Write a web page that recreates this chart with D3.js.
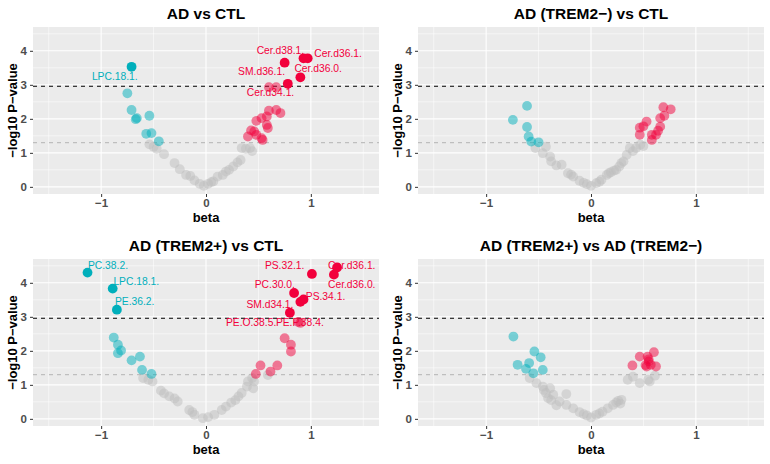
<html>
<head>
  <script src="https://d3js.org/d3.v7.min.js" charset="utf-8"></script>
  <style>
    body { margin: 0; background: #fff; }
    text { font-family: "Liberation Sans", Arial, sans-serif; }
  </style>
</head>
<body>
<script>
  var width = 770, height = 464;

  // thresholds: p = 0.05 and bonferroni
  var pLine = 1.301, bonfLine = 2.96;

  var titles = ["AD vs CTL", "AD (TREM2\u2212) vs CTL", "AD (TREM2+) vs CTL", "AD (TREM2+) vs AD (TREM2\u2212)"];
  var xTicks = [-1, 0, 1];
  var yTicks = [0, 1, 2, 3, 4];

  // [beta, -log10 p]
  var adCtl = [
    [-0.71,3.53],
    [-0.75,2.75],[-0.71,2.26],[-0.67,1.99],[-0.66,2.02],[-0.54,2.09],[-0.57,1.56],[-0.52,1.58],[-0.45,1.34],
    [-0.54,1.25],[-0.50,1.18],[-0.47,1.12],[-0.40,0.96],[-0.30,0.70],[-0.25,0.52],[-0.19,0.35],[-0.15,0.32],
    [-0.11,0.19],[-0.06,0.09],[-0.02,0.03],[0.02,0.09],[0.05,0.14],[0.07,0.16],[0.11,0.30],[0.16,0.35],
    [0.19,0.45],[0.22,0.50],[0.26,0.60],[0.30,0.72],[0.33,0.79],[0.34,1.14],[0.38,1.12],[0.42,1.14],[0.44,1.05],
    [0.40,1.48],[0.43,1.66],[0.46,1.63],[0.48,1.53],[0.48,1.94],[0.53,1.43],[0.54,1.38],[0.53,2.02],
    [0.58,2.07],[0.58,1.82],[0.59,1.73],[0.60,2.24],[0.67,2.26],[0.71,2.17],[0.60,2.93],[0.67,2.93],
    [0.78,3.03],[0.75,3.65],[0.93,3.78],[0.97,3.78],[0.90,3.22]
  ];
  var negCtl = [
    [-0.745,1.97],[-0.61,2.38],[-0.61,1.76],[-0.595,1.48],[-0.57,1.33],[-0.50,1.31],
    [-0.53,1.14],[-0.46,0.99],[-0.43,1.18],[-0.39,0.89],[-0.38,0.75],[-0.33,0.63],[-0.28,0.65],[-0.22,0.40],
    [-0.19,0.36],[-0.17,0.30],[-0.11,0.18],[-0.07,0.12],[-0.04,0.08],[0.0,0.03],[0.05,0.11],[0.08,0.15],
    [0.10,0.21],[0.15,0.35],[0.17,0.40],[0.19,0.43],[0.22,0.48],[0.24,0.50],[0.27,0.60],[0.29,0.70],
    [0.31,0.75],[0.34,0.94],[0.37,1.14],[0.40,1.05],[0.43,1.14],[0.47,1.24],[0.50,1.20],
    [0.465,1.74],[0.465,1.53],[0.53,1.92],[0.50,1.78],[0.58,1.53],[0.58,1.38],[0.62,1.53],[0.66,1.77],
    [0.66,2.02],[0.70,2.09],[0.69,2.34],[0.76,2.28],[0.64,1.65]
  ];
  var posCtl = [
    [-1.13,4.30],[-0.89,3.83],[-0.85,3.21],
    [-0.88,2.39],[-0.84,2.18],[-0.81,2.01],[-0.84,1.93],[-0.71,1.72],[-0.63,1.83],[-0.61,1.44],[-0.52,1.32],
    [-0.60,1.20],[-0.51,1.10],[-0.55,1.15],[-0.43,0.83],[-0.40,0.75],[-0.35,0.66],[-0.30,0.60],[-0.27,0.51],
    [-0.16,0.26],[-0.13,0.20],[-0.11,0.12],[-0.03,0.02],[0.02,0.05],[0.08,0.12],[0.15,0.26],[0.19,0.36],
    [0.24,0.48],[0.28,0.55],[0.31,0.66],[0.34,0.76],[0.39,0.95],[0.40,1.10],[0.45,0.90],[0.46,1.10],
    [0.44,1.20],[0.59,1.29],
    [0.475,1.32],[0.52,1.57],[0.615,1.39],[0.68,1.57],[0.75,2.37],[0.81,2.18],[0.81,1.98],[0.88,2.85],[0.90,2.82],
    [1.01,4.26],[1.25,4.45],[1.22,4.24],[0.84,3.70],[0.93,3.51],[0.90,3.44],[0.80,3.12]
  ];
  var posNeg = [
    [-0.74,2.42],[-0.70,1.59],[-0.62,1.47],[-0.59,1.64],[-0.54,1.98],[-0.48,1.81],[-0.46,1.44],[-0.55,1.34],
    [0.395,1.57],[0.465,1.83],[0.54,1.83],[0.60,1.96],[0.55,1.69],[0.53,1.54],[0.57,1.59],[0.62,1.54],
    [0.55,1.75],[0.52,1.58],
    [0.35,1.15],[0.40,1.24],[0.465,1.05],[0.545,1.15],[0.61,1.27],[0.56,1.10],[-0.585,1.20],[-0.52,1.05],
    [-0.46,0.95],[-0.39,0.90],[-0.43,0.76],[-0.36,0.71],[-0.235,0.73],[-0.41,0.61],[-0.38,0.55],[-0.30,0.51],
    [-0.235,0.41],[-0.17,0.31],[-0.11,0.20],[-0.07,0.14],[-0.04,0.10],[0.0,0.04],[0.05,0.12],[0.08,0.16],
    [0.11,0.21],[0.16,0.31],[0.21,0.41],[0.24,0.48],[0.26,0.53],[0.29,0.56],[0.28,0.45],[-0.45,0.85],[-0.33,0.40]
  ];

  // name, label anchor (beta, -log10 p)
  var labelsAdCtl = [
    ["LPC.18.1.", -0.87, 3.24], ["Cer.d38.1.", 0.71, 4.0], ["Cer.d36.1.", 1.26, 3.93],
    ["SM.d36.1.", 0.53, 3.39], ["Cer.d36.0.", 1.07, 3.47], ["Cer.d34.1.", 0.615, 2.77]
  ];
  var labelsPosCtl = [
    ["PC.38.2.", -0.935, 4.5], ["LPC.18.1.", -0.665, 4.03], ["PE.36.2.", -0.68, 3.44],
    ["PS.32.1.", 0.75, 4.5], ["Cer.d36.1.", 1.39, 4.5], ["Cer.d36.0.", 1.39, 3.96],
    ["PC.30.0.", 0.656, 3.95], ["PS.34.1.", 1.14, 3.61], ["SM.d34.1.", 0.61, 3.36],
    ["PE.O.38.5.", 0.43, 2.85], ["PE.P.38.4.", 0.895, 2.85]
  ];

  var panels = [
    {title: titles[0], pts: adCtl, labels: labelsAdCtl, x: 33, y: 27},
    {title: titles[1], pts: negCtl, labels: [], x: 418, y: 27},
    {title: titles[2], pts: posCtl, labels: labelsPosCtl, x: 33, y: 259},
    {title: titles[3], pts: posNeg, labels: [], x: 418, y: 259}
  ];

  var pw = 346, ph = 167;
  var teal = "#00AFBB", red = "#F2003C", grey = "#BEBEBE";

  var x = d3.scaleLinear().domain([-1.65, 1.65]).range([0, pw]);
  var y = d3.scaleLinear().domain([-0.21, 4.70]).range([ph, 0]);

  var svg = d3.select("body").append("svg")
      .attr("width", width).attr("height", height);

  function colorOf(d) {
    if (d[1] < pLine) return grey;
    return d[0] < 0 ? teal : red;
  }

  panels.forEach(function(p) {
    var g = svg.append("g").attr("transform", "translate(" + p.x + "," + p.y + ")");

    g.append("rect").attr("width", pw).attr("height", ph).attr("fill", "#EBEBEB");

    // minor grid
    g.selectAll(".mx").data([-1.5, -0.5, 0.5, 1.5]).enter().append("line")
      .attr("x1", x).attr("x2", x).attr("y1", 0).attr("y2", ph)
      .attr("stroke", "#fff").attr("stroke-width", 0.55);
    g.selectAll(".my").data([0.5, 1.5, 2.5, 3.5, 4.5]).enter().append("line")
      .attr("y1", y).attr("y2", y).attr("x1", 0).attr("x2", pw)
      .attr("stroke", "#fff").attr("stroke-width", 0.55);
    // major grid
    g.selectAll(".gx").data(xTicks).enter().append("line")
      .attr("x1", x).attr("x2", x).attr("y1", 0).attr("y2", ph)
      .attr("stroke", "#fff").attr("stroke-width", 1.1);
    g.selectAll(".gy").data(yTicks).enter().append("line")
      .attr("y1", y).attr("y2", y).attr("x1", 0).attr("x2", pw)
      .attr("stroke", "#fff").attr("stroke-width", 1.1);

    // threshold lines
    g.append("line").attr("x1", 0).attr("x2", pw)
      .attr("y1", y(pLine)).attr("y2", y(pLine))
      .attr("stroke", "#BEBEBE").attr("stroke-width", 1.1).attr("stroke-dasharray", "4,4");
    g.append("line").attr("x1", 0).attr("x2", pw)
      .attr("y1", y(bonfLine)).attr("y2", y(bonfLine))
      .attr("stroke", "#000").attr("stroke-width", 1.1).attr("stroke-dasharray", "4,4");

    // points: grey first, then colored
    var sorted = p.pts.slice().sort(function(a, b) { return a[1] - b[1]; });
    g.selectAll(".pt").data(sorted).enter().append("circle")
      .attr("cx", function(d) { return x(d[0]); })
      .attr("cy", function(d) { return y(d[1]); })
      .attr("r", 4.9)
      .attr("fill", colorOf)
      .attr("fill-opacity", function(d) { return d[1] >= bonfLine ? 1 : 0.5; });

    // labels
    g.selectAll(".lab").data(p.labels).enter().append("text")
      .attr("x", function(d) { return x(d[1]); })
      .attr("y", function(d) { return y(d[2]); })
      .attr("dy", "0.35em")
      .attr("text-anchor", "middle")
      .attr("font-size", 10.3)
      .attr("fill", function(d) { return d[1] < 0 ? teal : red; })
      .text(function(d) { return d[0]; });

    // axes
    var xa = g.append("g").attr("transform", "translate(0," + ph + ")")
      .call(d3.axisBottom(x).tickValues(xTicks).tickSize(3).tickPadding(2)
        .tickFormat(function(d) { return d < 0 ? "\u2212" + Math.abs(d) : d; }));
    var ya = g.append("g")
      .call(d3.axisLeft(y).tickValues(yTicks).tickSize(3).tickPadding(3)
        .tickFormat(d3.format("d")));
    [xa, ya].forEach(function(a) {
      a.select(".domain").remove();
      a.selectAll(".tick line").attr("stroke", "#333").attr("stroke-width", 1);
      a.selectAll(".tick text").attr("fill", "#4D4D4D")
        .attr("font-size", 11.5).attr("font-weight", "bold")
        .attr("font-family", "Liberation Sans, Arial, sans-serif");
    });

    g.append("text").attr("x", pw / 2).attr("y", -8)
      .attr("text-anchor", "middle").attr("font-size", 15.5).attr("font-weight", "bold")
      .text(p.title);
    g.append("text").attr("x", pw / 2).attr("y", ph + 28)
      .attr("text-anchor", "middle").attr("font-size", 13).attr("font-weight", "bold")
      .text("beta");
    g.append("text")
      .attr("transform", "translate(" + (-21) + "," + (ph / 2) + ") rotate(-90)")
      .attr("dy", "0.35em")
      .attr("text-anchor", "middle").attr("font-size", 13).attr("font-weight", "bold")
      .text("\u2212log10 P\u2212value");
  });
</script>
</body>
</html>
